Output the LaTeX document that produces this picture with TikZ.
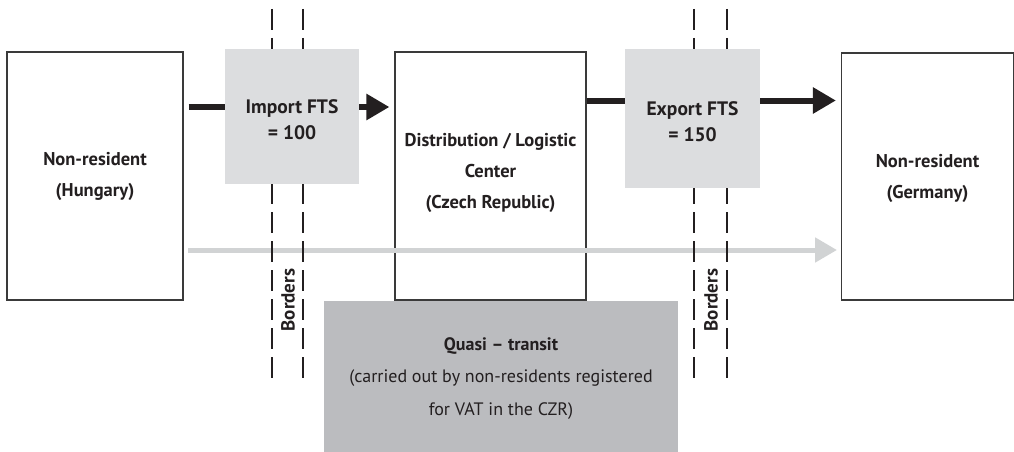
\documentclass[tikz,border=0pt]{standalone}
\usepackage{fontspec}
\setmainfont{PT Sans}
\usetikzlibrary{arrows.meta}
\definecolor{frame}{HTML}{3A3A3A}
\definecolor{ftsgray}{HTML}{DCDDDF}
\definecolor{quasigray}{HTML}{BBBCBF}
\definecolor{flowgray}{HTML}{D1D3D4}
\definecolor{ink}{HTML}{231F20}
\tikzset{
  party/.style={draw=frame, line width=1.2pt, fill=white, inner sep=0pt},
  partytext/.style={align=center, inner sep=0pt, text=ink,
    font=\bfseries\fontsize{18.5}{31}\selectfont},
  fts/.style={fill=ftsgray, draw=none, inner sep=0pt},
  ftstext/.style={align=center, inner sep=0pt, text=ink,
    font=\bfseries\fontsize{19.5}{26}\selectfont},
  quasi/.style={fill=quasigray, draw=none, inner sep=0pt},
  quasitext/.style={align=center, inner sep=0pt, text=ink,
    font=\fontsize{18}{32.5}\selectfont},
  border/.style={draw=ink, line width=2pt, dash pattern=on 21pt off 8pt},
  bordertag/.style={rotate=90, font=\bfseries\fontsize{19}{20}\selectfont, text=ink},
  blackflow/.style={draw=ink, line width=6pt},
  blackhead/.style={-{Triangle[length=23pt,width=25pt]}},
  grayflow/.style={draw=flowgray, line width=5pt, -{Triangle[length=22pt,width=24pt]}}
}
\begin{document}
\begin{tikzpicture}[x=1pt,y=-1pt]
\useasboundingbox (0,0) rectangle (1014,452);

% parties
\node[party, minimum width=176pt, minimum height=248pt] (hu) at (95,176) {};
\node[party, minimum width=191pt, minimum height=248pt] (cz) at (490.5,176) {};
\node[party, minimum width=172pt, minimum height=247pt] (de) at (927.5,176.5) {};
\node[partytext] (hut) at (hu.center) {Non-resident\\(Hungary)};
\node[partytext, yshift=3pt] (czt) at (cz.center)
  {Distribution / Logistic\\Center\\(Czech Republic)};
\node[partytext, yshift=-2pt] (det) at (de.center) {Non-resident\\(Germany)};

% goods shipped directly
\coordinate (gs) at (188,250);
\coordinate (ge) at (837,250);
\draw[grayflow] (gs) -- (ge);

% state borders
\coordinate (b1t) at (272,9);   \coordinate (b1b) at (272,381);
\coordinate (b2t) at (303,9);   \coordinate (b2b) at (303,381);
\coordinate (b3t) at (694,9);   \coordinate (b3b) at (694,381);
\coordinate (b4t) at (727,9);   \coordinate (b4b) at (727,381);
\draw[border] (b1t) -- (b1b);
\draw[border] (b2t) -- (b2b);
\draw[border] (b3t) -- (b3b);
\draw[border] (b4t) -- (b4b);
\node[bordertag] (bt1) at (288,300) {Borders};
\node[bordertag] (bt2) at (711,300) {Borders};

% statistical boxes
\node[fts, minimum width=134pt, minimum height=135pt] (imp) at (292,116.5) {};
\node[fts, minimum width=135pt, minimum height=139pt] (exp) at (692.5,118.5) {};
\node[ftstext, yshift=-3pt] (impt) at (imp.center) {Import FTS\\= 100};
\node[ftstext, yshift=-3pt] (expt) at (exp.center) {Export FTS\\= 150};

% physical flows
\draw[blackflow] ([xshift=5pt,yshift=69pt]hu.east) -- ([yshift=9.5pt]imp.west);
\draw[blackflow, blackhead] ([yshift=9.5pt]imp.east) -- ([xshift=-5pt,yshift=69pt]cz.west);
\draw[blackflow] ([yshift=75.5pt]cz.east) -- ([yshift=18pt]exp.west);
\draw[blackflow, blackhead] ([yshift=18pt]exp.east) -- ([xshift=-5pt,yshift=76pt]de.west);

% quasi-transit
\node[quasi, minimum width=354pt, minimum height=151pt] (qt) at (501,376.5) {};
\node[quasitext, yshift=-2pt] (qtt) at (qt.center)
  {\textbf{Quasi -- transit}\\(carried out by non-residents registered\\for VAT in the CZR)};
\end{tikzpicture}
\end{document}
